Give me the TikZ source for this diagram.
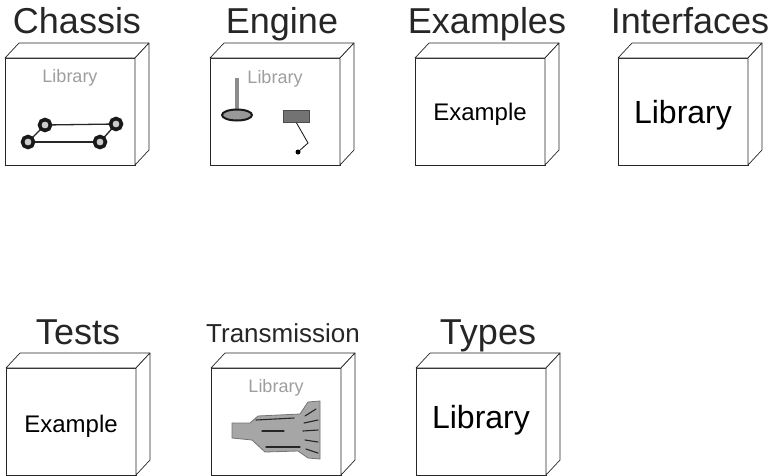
\documentclass[tikz,border=0pt]{standalone}
\usepackage{fontspec}
\setmainfont{Liberation Sans}
\usetikzlibrary{shapes.geometric}

\tikzset{
  front/.style={draw=black!85, fill=white, line width=0.7pt,
    minimum width=130pt, minimum height=107pt,
    inner sep=0pt, outer sep=0pt},
  face/.style={draw=black!85, fill=white, line width=0.7pt, line join=round},
  title/.style={font=\fontsize{36}{36}\selectfont, anchor=base,
    text=black!85, inner sep=0pt},
  smalltitle/.style={title, font=\fontsize{26}{26}\selectfont},
  biglabel/.style={font=\fontsize{32}{32}\selectfont, anchor=base,
    text=black, inner sep=0pt},
  midlabel/.style={font=\fontsize{24}{24}\selectfont, anchor=base,
    text=black, inner sep=0pt},
  faintlabel/.style={font=\fontsize{18}{18}\selectfont, anchor=base,
    text=black!38, inner sep=0pt},
  wheel/.style={circle, draw=black!90, line width=3.6pt, fill=black!20,
    minimum size=11pt, inner sep=0pt},
  axle/.style={black!85, line width=1.3pt},
  part/.style={fill=black!35, draw=black!55, line width=0.8pt},
  streak/.style={black!85, line width=1.1pt, line cap=round},
}

% side and top faces of a block, hung on its front node
\newcommand{\blockdepth}[1]{%
  \draw[face] (#1.north west) -- ++(14,-15) -- ++(130,0)
    -- (#1.north east) -- cycle;
  \draw[face] (#1.north east) -- ++(14,-15) -- ++(0,107)
    -- (#1.south east) -- cycle;
}

\begin{document}
\begin{tikzpicture}[x=1pt, y=-1pt]
\useasboundingbox (0,0) rectangle (773,475);

% ---------- upper row ----------
\node[front] (chassis) at (70,111.5) {};
\blockdepth{chassis}
\node[title] (chassisT) at (77,33) {Chassis};

\node[front] (engine) at (275,111.5) {};
\blockdepth{engine}
\node[title] (engineT) at (282,33) {Engine};

\node[front] (examples) at (480,111.5) {};
\blockdepth{examples}
\node[title] (examplesT) at (487,33) {Examples};
\node[midlabel] (examplesL) at (480,120) {Example};

\node[front] (interfaces) at (683,111.5) {};
\blockdepth{interfaces}
\node[title] (interfacesT) at (690,33) {Interfaces};
\node[biglabel] (interfacesL) at (683,123) {Library};

% ---------- lower row ----------
\node[front] (tests) at (71,421.5) {};
\blockdepth{tests}
\node[title] (testsT) at (78,344) {Tests};
\node[midlabel] (testsL) at (71,432) {Example};

\node[front] (transmission) at (276,421.5) {};
\blockdepth{transmission}
\node[smalltitle] (transmissionT) at (283,342) {Transmission};

\node[front] (types) at (481,421.5) {};
\blockdepth{types}
\node[title] (typesT) at (488,344) {Types};
\node[biglabel] (typesL) at (481,428) {Library};

% ---------- chassis icon ----------
\node[faintlabel] (chassisL) at (70,82) {Library};
\draw[axle] (45,125) coordinate (a1) -- (116,124) coordinate (a2);
\draw[axle] (28,142) coordinate (a3) -- (100,142) coordinate (a4);
\draw[axle] (a1) -- (a3);
\draw[axle] (a2) -- (a4);
\node[wheel] (w1) at (a1) {};
\node[wheel] (w2) at (a2) {};
\node[wheel] (w3) at (a3) {};
\node[wheel] (w4) at (a4) {};

% ---------- engine icon ----------
\node[faintlabel] (engineL) at (275,83) {Library};
\coordinate (stemtop) at (237,78);
\coordinate (stembase) at (237,113);
\draw[black!45, line width=3.5pt] (stemtop) -- (stembase);
\node[ellipse, draw=black!90, line width=2pt, fill=black!40,
  minimum width=30pt, minimum height=11pt, inner sep=0pt] (valve) at (237,115) {};
\node[rectangle, fill=black!55, draw=black!70, line width=0.8pt,
  minimum width=26pt, minimum height=12pt, inner sep=0pt] (piston) at (296.5,116.5) {};
\node[circle, fill=black, inner sep=0pt, minimum size=5pt] (crank) at (298,152) {};
\coordinate (rodbend) at (308,143);
\draw[black!85, line width=0.9pt] (piston.south) -- (rodbend) -- (crank);

% ---------- transmission icon ----------
\node[faintlabel] (transmissionL) at (276,392) {Library};
\draw[part] (232,423) -- (250,423) -- (258,416) -- (300,414) -- (308,402)
  -- (320,401) -- (320,459) -- (308,458) -- (298,451) -- (265,452)
  -- (252,440) -- (232,438) -- cycle;
\draw[streak] (256,420) -- (294,418);
\draw[streak] (262,431) -- (284,431);
\draw[streak] (266,447) -- (300,447);
\draw[streak] (305,416) -- (316,409);
\draw[streak] (304,423) -- (318,420);
\draw[streak] (303,431) -- (318,430);
\draw[streak] (305,440) -- (318,442);
\draw[streak] (306,449) -- (318,453);
\end{tikzpicture}
\end{document}
